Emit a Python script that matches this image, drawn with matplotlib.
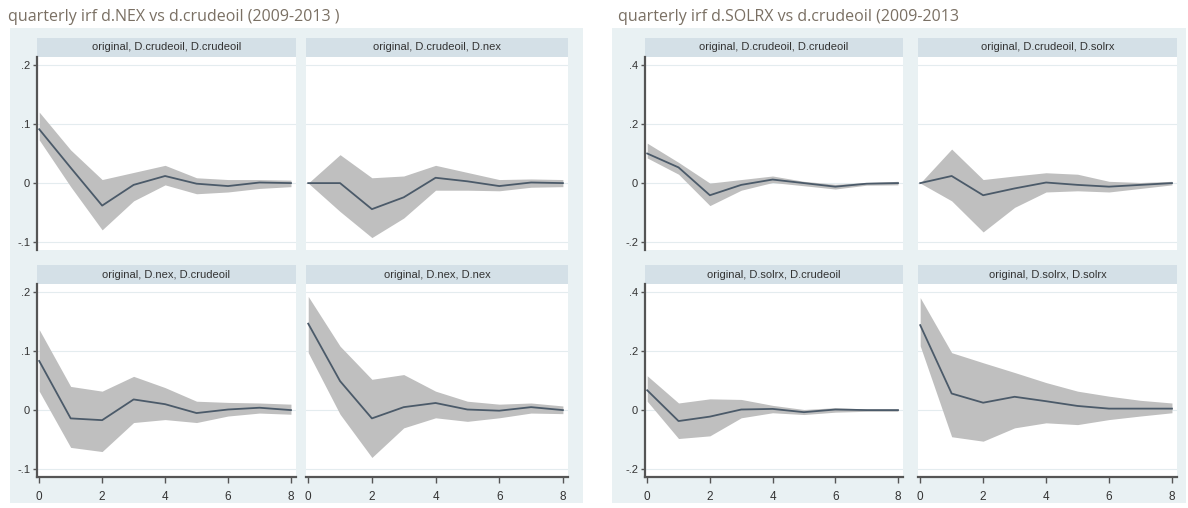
import matplotlib
matplotlib.use("Agg")
import matplotlib.pyplot as plt

# Forecast horizon (quarters)
steps = [0, 1, 2, 3, 4, 5, 6, 7, 8]

# ---- d.NEX vs d.crudeoil ----
nex_cc_irf = [0.091, 0.026, -0.038, -0.003, 0.012, -0.001, -0.005, 0.001, 0.0]
nex_cc_lo = [0.073, -0.006, -0.079, -0.030, -0.003, -0.018, -0.015, -0.009, -0.006]
nex_cc_hi = [0.120, 0.056, 0.006, 0.018, 0.030, 0.009, 0.006, 0.006, 0.005]

nex_cn_irf = [0.0, 0.0, -0.044, -0.024, 0.009, 0.003, -0.005, 0.001, 0.0]
nex_cn_lo = [0.0, -0.048, -0.092, -0.059, -0.012, -0.012, -0.013, -0.007, -0.006]
nex_cn_hi = [0.0, 0.048, 0.009, 0.012, 0.030, 0.018, 0.006, 0.007, 0.006]

nex_nc_irf = [0.083, -0.014, -0.017, 0.018, 0.010, -0.005, 0.001, 0.004, 0.0]
nex_nc_lo = [0.032, -0.063, -0.070, -0.021, -0.016, -0.021, -0.010, -0.005, -0.007]
nex_nc_hi = [0.136, 0.040, 0.032, 0.057, 0.038, 0.015, 0.013, 0.012, 0.010]

nex_nn_irf = [0.146, 0.049, -0.014, 0.005, 0.012, 0.001, -0.001, 0.005, 0.0]
nex_nn_lo = [0.097, -0.007, -0.080, -0.030, -0.013, -0.019, -0.013, -0.005, -0.006]
nex_nn_hi = [0.192, 0.108, 0.052, 0.060, 0.032, 0.015, 0.010, 0.012, 0.007]

# ---- d.SOLRX vs d.crudeoil ----
sol_cc_irf = [0.100, 0.053, -0.041, -0.006, 0.012, 0.0, -0.012, -0.002, 0.0]
sol_cc_lo = [0.085, 0.030, -0.076, -0.024, 0.002, -0.009, -0.020, -0.007, -0.006]
sol_cc_hi = [0.135, 0.070, 0.000, 0.012, 0.024, 0.006, -0.004, 0.002, 0.006]

sol_cs_irf = [0.0, 0.024, -0.041, -0.018, 0.002, -0.006, -0.012, -0.006, 0.0]
sol_cs_lo = [0.0, -0.060, -0.165, -0.082, -0.030, -0.026, -0.030, -0.018, -0.006]
sol_cs_hi = [0.0, 0.115, 0.012, 0.024, 0.035, 0.030, 0.006, 0.002, 0.006]

sol_sc_irf = [0.067, -0.037, -0.022, 0.002, 0.004, -0.007, 0.002, 0.0, 0.0]
sol_sc_lo = [0.030, -0.096, -0.087, -0.026, -0.009, -0.015, -0.007, -0.004, -0.004]
sol_sc_hi = [0.116, 0.024, 0.038, 0.036, 0.016, 0.002, 0.008, 0.004, 0.004]

sol_ss_irf = [0.287, 0.056, 0.025, 0.045, 0.030, 0.014, 0.005, 0.005, 0.005]
sol_ss_lo = [0.217, -0.090, -0.105, -0.060, -0.043, -0.049, -0.032, -0.020, -0.009]
sol_ss_hi = [0.380, 0.194, 0.160, 0.127, 0.093, 0.064, 0.047, 0.033, 0.024]

nex_titles = ["original, D.crudeoil, D.crudeoil", "original, D.crudeoil, D.nex",
              "original, D.nex, D.crudeoil", "original, D.nex, D.nex"]
sol_titles = ["original, D.crudeoil, D.crudeoil", "original, D.crudeoil, D.solrx",
              "original, D.solrx, D.crudeoil", "original, D.solrx, D.solrx"]

nex_yticks = [-0.1, 0.0, 0.1, 0.2]
nex_ylabels = ["-.1", "0", ".1", ".2"]
sol_yticks = [-0.2, 0.0, 0.2, 0.4]
sol_ylabels = ["-.2", "0", ".2", ".4"]
xticks = [0, 2, 4, 6, 8]

W, H = 1188, 508
fig = plt.figure(figsize=(W / 100, H / 100), dpi=100)
fig.patch.set_facecolor("white")
plt.rcParams["font.family"] = ["Liberation Sans", "DejaVu Sans"]

BG = "#e9f1f3"
STRIP = "#d4e0e7"
BAND = "#bfbfbf"
LINE = "#4b5a69"
AXC = "#555555"
TXT = "#333333"


def px_axes(x0, y0, x1, y1, **kw):
    return fig.add_axes([x0 / W, 1 - y1 / H, (x1 - x0) / W, (y1 - y0) / H], **kw)


def blank(ax, color):
    ax.set_facecolor(color)
    ax.set_xticks([]); ax.set_yticks([])
    for s in ax.spines.values():
        s.set_visible(False)


def panel(box, title, irf, lo, hi, ylim, yticks, ylabels, show_y, show_x):
    x0, y0, x1, y1 = box
    # header strip
    sax = px_axes(x0, y0 - 19, x1, y0)
    blank(sax, STRIP)
    sax.text(0.5, 0.5, title, ha="center", va="center", fontsize=8, color=TXT,
             transform=sax.transAxes)
    ax = px_axes(x0, y0, x1, y1)
    ax.set_facecolor("white")
    ax.fill_between(steps, lo, hi, color=BAND, linewidth=0, zorder=2)
    ax.plot(steps, irf, color=LINE, linewidth=1.3, zorder=3)
    ax.set_xlim(-0.07, 8.16)
    ax.set_ylim(*ylim)
    for yv in yticks:
        ax.axhline(yv, color="#e4ecef", linewidth=0.8, zorder=1)
    ax.set_yticks(yticks)
    ax.set_xticks(xticks)
    for side in ("top", "right"):
        ax.spines[side].set_visible(False)
    ax.spines["left"].set_visible(show_y)
    ax.spines["bottom"].set_visible(show_x)
    ax.spines["left"].set_color(AXC)
    ax.spines["bottom"].set_color(AXC)
    ax.spines["left"].set_linewidth(1.6)
    ax.spines["bottom"].set_linewidth(1.6)
    ax.tick_params(axis="y", left=show_y, labelleft=show_y, length=3, width=1,
                   color=AXC, labelsize=8, labelcolor=TXT, pad=2)
    ax.tick_params(axis="x", bottom=show_x, labelbottom=show_x, length=4, width=1,
                   color=AXC, labelsize=8.5, labelcolor=TXT, pad=6)
    if show_y:
        ax.set_yticklabels(ylabels)
    if show_x:
        ax.set_xticklabels([str(t) for t in xticks])
    return ax


def graph(left, title, titles, series, ylim, yticks, ylabels, col_x, bg_x):
    bg = px_axes(bg_x[0], 28, bg_x[1], 503)
    blank(bg, BG)
    bg.set_zorder(-5)
    fig.text(left / W, 1 - 17 / H, title, fontsize=11.5, color="#7a7064",
             ha="left", va="center", family=["Open Sans", "DejaVu Sans"])
    rows = [(57, 250), (284, 477)]
    k = 0
    for r, (ry0, ry1) in enumerate(rows):
        for c, (cx0, cx1) in enumerate(col_x):
            irf, lo, hi = series[k]
            panel((cx0, ry0, cx1, ry1), titles[k], irf, lo, hi, ylim, yticks,
                  ylabels, show_y=(c == 0), show_x=(r == 1))
            k += 1


graph(8, "quarterly irf d.NEX vs d.crudeoil (2009-2013 )", nex_titles,
      [(nex_cc_irf, nex_cc_lo, nex_cc_hi), (nex_cn_irf, nex_cn_lo, nex_cn_hi),
       (nex_nc_irf, nex_nc_lo, nex_nc_hi), (nex_nn_irf, nex_nn_lo, nex_nn_hi)],
      (-0.113, 0.213), nex_yticks, nex_ylabels,
      [(37, 296), (306, 568)], (10, 583))

graph(618, "quarterly irf d.SOLRX vs d.crudeoil (2009-2013", sol_titles,
      [(sol_cc_irf, sol_cc_lo, sol_cc_hi), (sol_cs_irf, sol_cs_lo, sol_cs_hi),
       (sol_sc_irf, sol_sc_lo, sol_sc_hi), (sol_ss_irf, sol_ss_lo, sol_ss_hi)],
      (-0.226, 0.426), sol_yticks, sol_ylabels,
      [(645, 903), (918, 1177)], (612, 1186))

fig.savefig("out.png", dpi=100, facecolor=fig.get_facecolor())
